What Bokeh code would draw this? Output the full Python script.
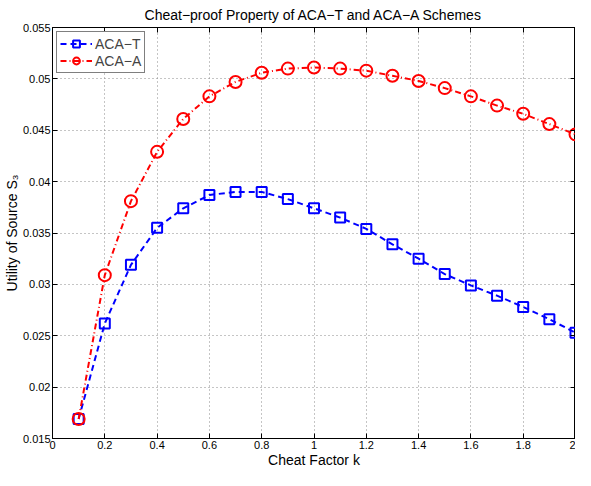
from bokeh.plotting import figure
from bokeh.models import LinearAxis, FixedTicker, Range1d
from bokeh.embed import file_html
from bokeh.resources import INLINE

# ---- data ----
k_values = [0.1, 0.2, 0.3, 0.4, 0.5, 0.6, 0.7, 0.8, 0.9, 1.0,
            1.1, 1.2, 1.3, 1.4, 1.5, 1.6, 1.7, 1.8, 1.9, 2.0]
aca_t = [0.0169, 0.0262, 0.0319, 0.0355, 0.0374, 0.0387, 0.0390, 0.0390, 0.0383, 0.0374,
         0.0365, 0.0354, 0.0339, 0.0325, 0.0310, 0.0299, 0.0289, 0.0278, 0.0266, 0.0253]
aca_a = [0.0169, 0.0309, 0.0381, 0.0429, 0.0461, 0.0483, 0.0497, 0.0506, 0.0510, 0.0511,
         0.0510, 0.0508, 0.0503, 0.0498, 0.0491, 0.0483, 0.0474, 0.0466, 0.0456, 0.0446]
x_ticks = [0, 0.2, 0.4, 0.6, 0.8, 1, 1.2, 1.4, 1.6, 1.8, 2]
x_tick_labels = ["0", "0.2", "0.4", "0.6", "0.8", "1", "1.2", "1.4", "1.6", "1.8", "2"]
y_ticks = [0.015, 0.02, 0.025, 0.03, 0.035, 0.04, 0.045, 0.05, 0.055]
y_tick_labels = ["0.015", "0.02", "0.025", "0.03", "0.035", "0.04", "0.045", "0.05", "0.055"]

FONT = "Liberation Sans"

p = figure(width=575, height=470,
           x_range=Range1d(0, 2), y_range=Range1d(0.015, 0.055),
           output_backend="svg", toolbar_location=None,
           title="Cheat\u2212proof Property of ACA\u2212T and ACA\u2212A Schemes",
           min_border=0,
           min_border_left=42, min_border_right=0, min_border_top=0, min_border_bottom=0)

p.title.text_font = FONT
p.title.text_font_size = "14px"
p.title.text_font_style = "normal"
p.title.align = "center"
p.title.text_color = "black"
p.title.standoff = 9
p.title.offset = 0

p.outline_line_color = "black"
p.outline_line_width = 1

# main axes
p.xaxis.ticker = FixedTicker(ticks=x_ticks)
p.xaxis.major_label_overrides = {t: l for t, l in zip(x_ticks, x_tick_labels)}
p.yaxis.ticker = FixedTicker(ticks=y_ticks)
p.yaxis.major_label_overrides = {t: l for t, l in zip(y_ticks, y_tick_labels)}
p.xaxis.axis_label = "Cheat Factor k"
p.yaxis.axis_label = "Utility of Source S\u2083"
for ax in (p.xaxis[0], p.yaxis[0]):
    ax.major_tick_in = 5
    ax.major_tick_out = 0
    ax.minor_tick_line_color = None
    ax.axis_line_color = "black"
    ax.major_tick_line_color = "black"
    ax.major_label_text_font = FONT
    ax.major_label_text_font_size = "11px"
    ax.major_label_text_color = "black"
    ax.major_label_text_line_height = 1.0
    ax.major_label_standoff = 2
    ax.axis_label_text_font = FONT
    ax.axis_label_text_font_size = "14px"
    ax.axis_label_text_font_style = "normal"
    ax.axis_label_text_color = "black"
    ax.axis_label_text_line_height = 1.0
    ax.axis_label_standoff = 0

# mirror tick axes (top / right), ticks only (labels blank and not painted)
for loc, ticks in (("right", y_ticks), ("above", x_ticks)):
    ax = LinearAxis(ticker=FixedTicker(ticks=ticks),
                    major_label_overrides={t: "" for t in ticks},
                    major_label_text_color=None,
                    major_label_text_font_size="1px",
                    major_label_standoff=0,
                    major_tick_in=5, major_tick_out=0,
                    minor_tick_line_color=None,
                    axis_line_color="black", major_tick_line_color="black")
    p.add_layout(ax, loc)

# grid
for g in (p.xgrid[0], p.ygrid[0]):
    g.grid_line_color = "#8a8a8a"
    g.grid_line_dash = "1 3"
    g.grid_line_width = 1

# series
p.line(k_values, aca_t, line_color="#0000ff", line_width=2, line_dash="6 4", legend_label="ACA\u2212T")
p.scatter(k_values, aca_t, marker="square", size=10, fill_color=None, line_color="#0000ff",
          line_width=2, legend_label="ACA\u2212T")
p.line(k_values, aca_a, line_color="#ff0000", line_width=2, line_dash="6 3 1 3", legend_label="ACA\u2212A")
p.scatter(k_values, aca_a, marker="circle", size=12, fill_color=None, line_color="#ff0000",
          line_width=2, legend_label="ACA\u2212A")

p.legend.location = "top_left"
p.legend.border_line_color = "black"
p.legend.border_line_width = 1
p.legend.label_text_font = FONT
p.legend.label_text_font_size = "14px"
p.legend.glyph_width = 32
p.legend.glyph_height = 17
p.legend.padding = 3
p.legend.spacing = 0
p.legend.margin = 4
p.legend.label_standoff = 3
p.legend.background_fill_alpha = 1

open("out.html", "w").write(file_html(p, INLINE))
